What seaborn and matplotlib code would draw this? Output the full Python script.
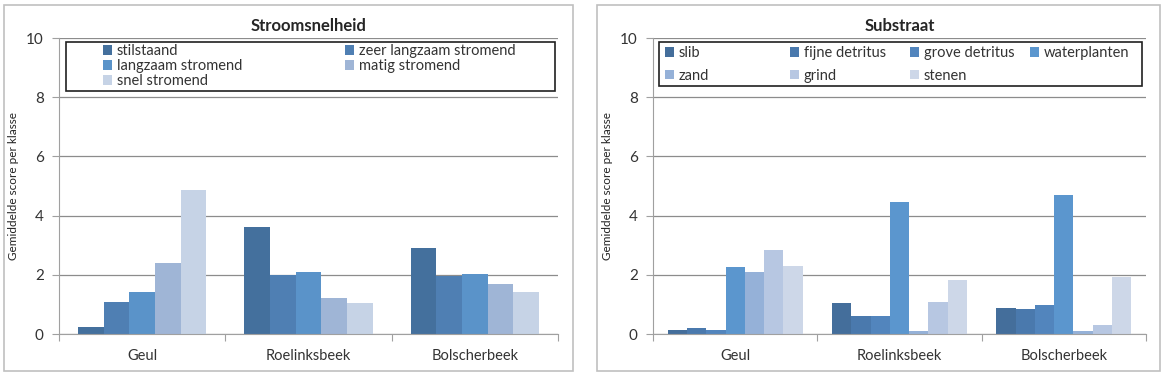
import matplotlib.pyplot as plt
import matplotlib as mpl
import numpy as np
import pandas as pd
import seaborn as sns

locaties = ["Geul", "Roelinksbeek", "Bolscherbeek"]

stroom_klassen = ["stilstaand", "zeer langzaam stromend", "langzaam stromend",
                  "matig stromend", "snel stromend"]
stroom_geul = [0.22, 1.07, 1.43, 2.40, 4.87]
stroom_roel = [3.62, 2.01, 2.10, 1.22, 1.04]
stroom_bols = [2.90, 1.97, 2.02, 1.70, 1.42]
stroom_kleuren = ["#44709d", "#4f7fb3", "#5a93c9", "#9fb5d6", "#c6d3e6"]

sub_klassen = ["slib", "fijne detritus", "grove detritus", "waterplanten",
               "zand", "grind", "stenen"]
sub_geul = [0.12, 0.19, 0.15, 2.28, 2.09, 2.84, 2.31]
sub_roel = [1.04, 0.60, 0.62, 4.45, 0.09, 1.09, 1.83]
sub_bols = [0.88, 0.84, 0.97, 4.70, 0.11, 0.31, 1.92]
sub_kleuren = ["#446e9b", "#4a79ad", "#5285bd", "#5b96ce", "#95b1d8", "#b7c7e2", "#cdd7e8"]


def tabel(klassen, reeksen):
    rows = []
    for loc, vals in zip(locaties, reeksen):
        for k, v in zip(klassen, vals):
            rows.append({"locatie": loc, "klasse": k, "score": v})
    return pd.DataFrame(rows)


sns.set_style("white")
plt.rcParams['font.family'] = ['Lato', 'DejaVu Sans']

W, H = 1164, 378
fig = plt.figure(figsize=(W / 100, H / 100), dpi=100)

# panel frames
for x0, x1 in [(4, 573), (597, 1160)]:
    fig.patches.append(mpl.patches.Rectangle((x0 / W, 1 - 371 / H), (x1 - x0) / W, 366 / H,
                                             transform=fig.transFigure, fill=False,
                                             edgecolor="#c0c0c0", lw=1.2))


def paneel(rect, df, klassen, kleuren, titel, breedte, leg_box, kol_x, leg_top, rijafstand):
    left, right = rect
    ax = fig.add_axes([left / W, 1 - 334 / H, (right - left) / W, 296 / H])
    sns.barplot(data=df, x="locatie", y="score", hue="klasse", hue_order=klassen,
                palette=kleuren, width=breedte, gap=0, ax=ax, saturation=1,
                linewidth=0, errorbar=None)
    ax.set_ylim(0, 10)
    ax.set_xlim(-0.5, 2.5)
    ax.set_yticks([0, 2, 4, 6, 8, 10])
    ax.yaxis.grid(True, color="#8c8c8c", lw=0.9)
    ax.set_axisbelow(True)
    for s in ["top", "right"]:
        ax.spines[s].set_visible(False)
    for s in ["left", "bottom"]:
        ax.spines[s].set_color("#a0a0a0")
    ax.set_xticks([-0.5, 0.5, 1.5, 2.5])
    ax.set_xticklabels([])
    ax.set_xticks([0, 1, 2], minor=True)
    ax.set_xticklabels(locaties, minor=True, fontsize=10.5, color="#333333")
    ax.tick_params(axis="x", which="major", length=5, color="#a0a0a0", direction="out", bottom=True)
    ax.tick_params(axis="x", which="minor", length=0, pad=11)
    ax.tick_params(axis="y", length=5, color="#a0a0a0", labelsize=11, labelcolor="#333333",
                   left=True, pad=6)
    ax.set_xlabel("")
    ax.set_ylabel("Gemiddelde score per klasse", fontsize=8.5, color="#222222", labelpad=5)
    ax.set_title(titel, fontsize=12, fontweight="bold", pad=5)

    handles, labels = ax.get_legend_handles_labels()
    ax.get_legend().remove()
    bx0, by0, bx1, by1 = leg_box
    ax.add_patch(mpl.patches.Rectangle(((bx0 - left) / (right - left), (334 - by1) / 296),
                                       (bx1 - bx0) / (right - left), (by1 - by0) / 296,
                                       transform=ax.transAxes, fill=True, facecolor="white",
                                       edgecolor="#202020", lw=1.2, zorder=5, clip_on=False))
    ncol = len(kol_x)
    legs = []
    for j, x in enumerate(kol_x):
        leg = ax.legend(handles[j::ncol], labels[j::ncol], loc="upper left",
                        bbox_to_anchor=((x - left) / (right - left), (334 - leg_top) / 296),
                        frameon=False, fontsize=10.5, handlelength=0.65, handleheight=0.65,
                        handletextpad=0.3, borderpad=0, borderaxespad=0,
                        labelspacing=rijafstand)
        leg.set_zorder(6)
        for t in leg.get_texts():
            t.set_color("#333333")
        legs.append(leg)
    for leg in legs[:-1]:
        ax.add_artist(leg)
    return ax


paneel((59, 558), tabel(stroom_klassen, [stroom_geul, stroom_roel, stroom_bols]),
       stroom_klassen, stroom_kleuren, "Stroomsnelheid", 0.77,
       (66, 42, 555, 91), [103, 345], 44, 0.08)
paneel((653, 1146), tabel(sub_klassen, [sub_geul, sub_roel, sub_bols]),
       sub_klassen, sub_kleuren, "Substraat", 0.82,
       (659, 42, 1142, 86), [665, 790, 910, 1030], 46, 0.6)

plt.savefig("out.png", dpi=100)
